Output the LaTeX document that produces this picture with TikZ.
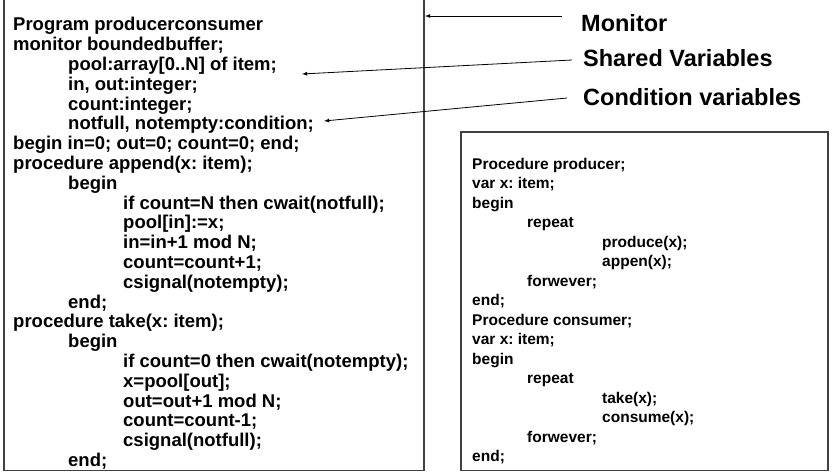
\documentclass[tikz,border=0pt]{standalone}
\usepackage{fontspec}
\setmainfont{Liberation Sans}
\frenchspacing
\newcommand{\tabI}{\hspace*{55pt}}
\newcommand{\tabII}{\hspace*{110pt}}
\newcommand{\tabIII}{\hspace*{130pt}}
\tikzset{
  frame/.style={draw=black!75, line width=1.5pt, inner sep=0pt},
  code/.style={align=left, inner sep=0pt, anchor=base west, font=\bfseries\fontsize{18.5}{19.8}\selectfont},
  proc/.style={code, font=\bfseries\fontsize{15.5}{19.5}\selectfont},
  callout/.style={anchor=west, inner sep=0pt, font=\bfseries\fontsize{23.5}{28}\selectfont},
  pointer/.style={-latex, line width=0.8pt},
}

\begin{document}
\begin{tikzpicture}[x=1pt,y=-1pt]
    \useasboundingbox (0,0) rectangle (833,476);
    %% Draw the frames
    \node[frame, minimum width=420pt, minimum height=480pt, anchor=south west] (codebox) at (3,471) {};
    \node[frame, minimum width=367pt, minimum height=338pt, anchor=south west] (procbox) at (460,471) {};
    %% Draw the monitor code (base is the last line)
    \node[code] (codetext) at (13,466.4) {Program producerconsumer\\
      monitor boundedbuffer;\\
      \tabI pool:array[0..N] of item;\\
      \tabI in, out:integer;\\
      \tabI count:integer;\\
      \tabI notfull, notempty:condition;\\
      begin in=0; out=0; count=0; end;\\
      procedure append(x: item);\\
      \tabI begin\\
      \tabII if count=N then cwait(notfull);\\
      \tabII pool[in]:=x;\\
      \tabII in=in+1 mod N;\\
      \tabII count=count+1;\\
      \tabII csignal(notempty);\\
      \tabI end;\\
      procedure take(x: item);\\
      \tabI begin\\
      \tabII if count=0 then cwait(notempty);\\
      \tabII x=pool[out];\\
      \tabII out=out+1 mod N;\\
      \tabII count=count-1;\\
      \tabII csignal(notfull);\\
      \tabI end;};
    %% Draw the producer and consumer code
    \node[proc] (proctext) at (472,461.5) {Procedure producer;\\
      var x: item;\\
      begin\\
      \tabI repeat\\
      \tabIII produce(x);\\
      \tabIII appen(x);\\
      \tabI forwever;\\
      end;\\
      Procedure consumer;\\
      var x: item;\\
      begin\\
      \tabI repeat\\
      \tabIII take(x);\\
      \tabIII consume(x);\\
      \tabI forwever;\\
      end;};
    %% Draw the labels
    \node[callout] (monlbl) at (581,23) {Monitor};
    \node[callout] (sharedlbl) at (583,58) {Shared Variables};
    \node[callout] (condlbl) at (583,97) {Condition variables};
    \coordinate (montip) at (425,16);
    \coordinate (sharedtip) at (302,74);
    \coordinate (condtip) at (324,121);
    %% Draw the arrows
    \draw[pointer] ([shift={(-19,-7)}]monlbl.west) -- (montip);
    \draw[pointer] ([shift={(-11,2)}]sharedlbl.west) -- (sharedtip);
    \draw[pointer] ([shift={(-16,1)}]condlbl.west) -- (condtip);
  \end{tikzpicture}
\end{document}
